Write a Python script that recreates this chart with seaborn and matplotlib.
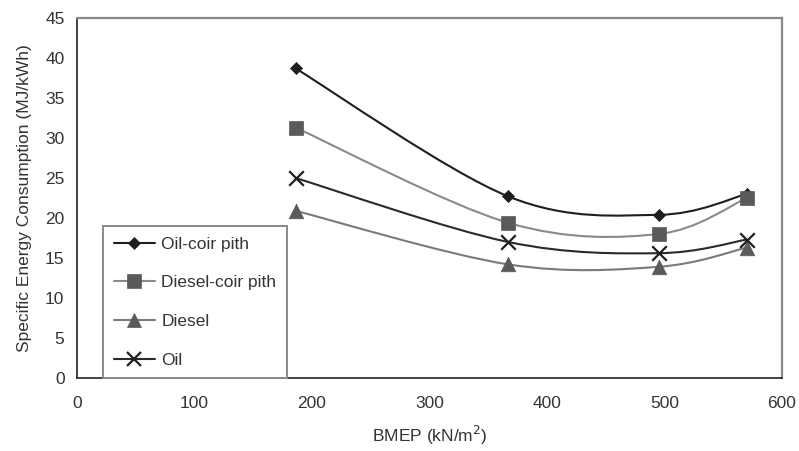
import numpy as np
import pandas as pd
import matplotlib
matplotlib.use("Agg")
import matplotlib.pyplot as plt
from matplotlib.path import Path
from matplotlib.patches import PathPatch
from matplotlib.lines import Line2D
import seaborn as sns

# BMEP load points (kN/m^2)
bmep = [186, 367, 495, 570]

# Specific energy consumption (MJ/kWh) for each fuel
oil_coir_pith = [38.7, 22.7, 20.4, 23.0]
diesel_coir_pith = [31.3, 19.4, 18.0, 22.5]
diesel = [20.9, 14.2, 13.9, 16.3]
oil = [25.0, 17.0, 15.6, 17.3]

series_names = ["Oil-coir pith", "Diesel-coir pith", "Diesel", "Oil"]
series_values = [oil_coir_pith, diesel_coir_pith, diesel, oil]

x_ticks = [0, 100, 200, 300, 400, 500, 600]
y_ticks = [0, 5, 10, 15, 20, 25, 30, 35, 40, 45]

styles = {
    "Oil-coir pith":    dict(line="#1e1e1e", marker="D", mcolor="#1e1e1e", s=38, ms=6.0),
    "Diesel-coir pith": dict(line="#8a8a8a", marker="s", mcolor="#5a5a5a", s=110, ms=10.5),
    "Diesel":           dict(line="#7a7a7a", marker="^", mcolor="#5a5a5a", s=110, ms=10.5),
    "Oil":              dict(line="#2a2a2a", marker="x", mcolor="#1e1e1e", s=110, ms=10.5),
}

df = pd.DataFrame(
    [(name, x, y) for name, vals in zip(series_names, series_values) for x, y in zip(bmep, vals)],
    columns=["series", "bmep", "sec"],
)

sns.set_theme(style="white")
plt.rcParams["font.family"] = ["Liberation Sans", "DejaVu Sans"]
text_color = "#333333"
fs = 12.5

fig = plt.figure(figsize=(7.99, 4.51), dpi=100)
ax = fig.add_axes([77 / 799, 1 - 378 / 451, (782 - 77) / 799, (378 - 18) / 451])


def smooth_path(xs, ys):
    """Cardinal (Catmull-Rom) Bezier curve through the given points."""
    pts = np.column_stack([xs, ys]).astype(float)
    n = len(pts)
    verts = [pts[0]]
    codes = [Path.MOVETO]
    for i in range(n - 1):
        p_prev = pts[i - 1] if i > 0 else pts[i]
        p_next = pts[i + 2] if i + 2 < n else pts[i + 1]
        c1 = pts[i] + (pts[i + 1] - p_prev) / 6.0
        c2 = pts[i + 1] - (p_next - pts[i]) / 6.0
        verts += [c1, c2, pts[i + 1]]
        codes += [Path.CURVE4] * 3
    return Path(verts, codes)


for name in series_names:
    st = styles[name]
    sub = df[df["series"] == name]
    ax.add_patch(PathPatch(smooth_path(sub["bmep"], sub["sec"]), facecolor="none",
                           edgecolor=st["line"], lw=1.5, zorder=2))
    if st["marker"] == "x":
        sns.scatterplot(data=sub, x="bmep", y="sec", marker="x", s=st["s"], color=st["mcolor"],
                        linewidth=1.6, ax=ax, zorder=3, legend=False)
    else:
        sns.scatterplot(data=sub, x="bmep", y="sec", marker=st["marker"], s=st["s"],
                        color=st["mcolor"], edgecolor=st["mcolor"], linewidth=0.5,
                        ax=ax, zorder=3, legend=False)

ax.set_xlim(0, 600)
ax.set_ylim(0, 45)
ax.set_xticks(x_ticks)
ax.set_yticks(y_ticks)
ax.tick_params(axis="both", direction="out", length=5, width=1, colors="#222222",
               labelsize=fs, labelcolor=text_color, pad=4)
ax.tick_params(axis="x", pad=8)
ax.set_xlabel("BMEP (kN/m$^2$)", fontsize=fs, color=text_color, labelpad=9)
ax.set_ylabel("Specific Energy Consumption (MJ/kWh)", fontsize=fs, color=text_color, labelpad=9)

for side in ["left", "bottom"]:
    ax.spines[side].set_color("#222222")
    ax.spines[side].set_linewidth(1.2)
for side in ["top", "right"]:
    ax.spines[side].set_color("#8a8a8a")
    ax.spines[side].set_linewidth(1.6)

handles = []
for name in series_names:
    st = styles[name]
    mew = 1.6 if st["marker"] == "x" else 0.5
    handles.append(Line2D([0], [0], color=st["line"], lw=1.5, marker=st["marker"],
                          markersize=st["ms"] * (0.95 if st["marker"] != "D" else 1.0),
                          markerfacecolor=st["mcolor"], markeredgecolor=st["mcolor"],
                          markeredgewidth=mew))

leg = ax.legend(handles, series_names, loc="lower left", bbox_to_anchor=(0.037, 0.0),
                frameon=True, fancybox=False, framealpha=1, edgecolor="#8a8a8a",
                fontsize=fs, handlelength=2.4, handletextpad=0.35, labelspacing=1.35,
                borderpad=0.6, borderaxespad=0.0)
leg.get_frame().set_linewidth(1.4)
for t in leg.get_texts():
    t.set_color(text_color)

fig.savefig("out.png", dpi=100, facecolor="white")
